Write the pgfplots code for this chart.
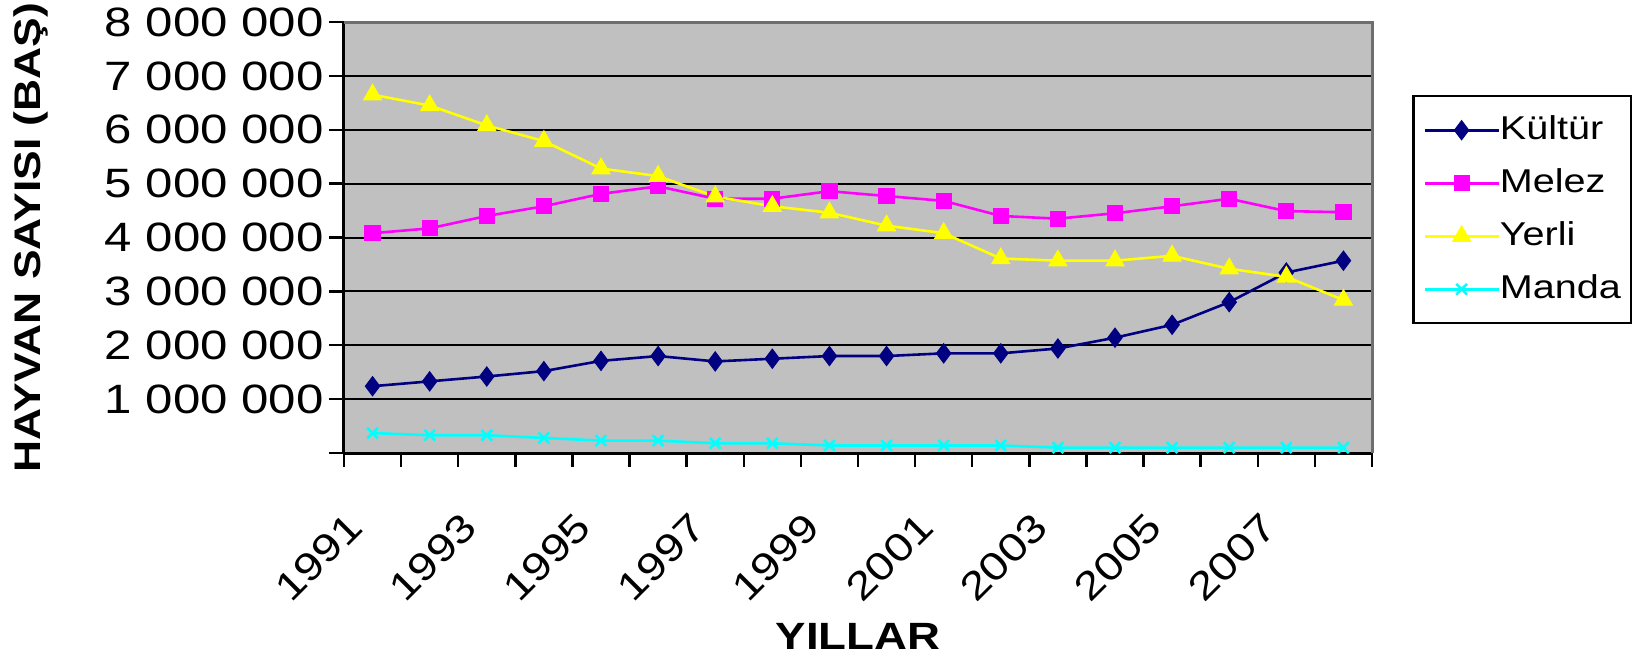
\documentclass[border=0pt]{standalone}
\usepackage{pgfplots}
\pgfplotsset{compat=1.18}
\usepackage{fontspec}
\setmainfont{Liberation Sans}[FakeStretch=1.2]
\definecolor{kultur}{RGB}{0,0,128}
\definecolor{melez}{RGB}{255,0,255}
\definecolor{yerli}{RGB}{255,255,0}
\definecolor{manda}{RGB}{0,255,255}
\definecolor{plotbg}{RGB}{192,192,192}
\definecolor{bordergray}{RGB}{110,110,110}
\begin{document}
\begin{tikzpicture}
\path[use as bounding box] (0,0) rectangle (819pt,327.5pt);
\begin{axis}[
  at={(172pt,101pt)}, anchor=south west,
  scale only axis, width=514pt, height=215.5pt,
  xmin=-0.5, xmax=17.5, ymin=0, ymax=8000000,
  scaled y ticks=false,
  axis lines*=left,
  axis line style={-, line width=1.5pt, black},
  axis background/.style={fill=plotbg},
  tick align=outside,
  xtick={0,2,4,6,8,10,12,14,16},
  xticklabels={1991,1993,1995,1997,1999,2001,2003,2005,2007},
  major x tick style={draw=none},
  minor xtick={-0.5,0.5,...,17.5},
  minor tick length=7pt,
  minor x tick style={black, line width=1.2pt},
  ytick={0,1000000,2000000,3000000,4000000,5000000,6000000,7000000,8000000},
  yticklabels={,1 000 000,2 000 000,3 000 000,4 000 000,5 000 000,6 000 000,7 000 000,8 000 000},
  major tick length=7.5pt,
  major y tick style={black, line width=1.2pt},
  ymajorgrids,
  grid style={black, line width=1pt},
  yticklabel style={font=\fontsize{20.5}{22}\selectfont, anchor=east, inner sep=0pt, xshift=-2.5pt},
  xticklabel style={font=\fontsize{19.5}{22}\selectfont, xshift=-8.5pt, yshift=-26pt, rotate=45, anchor=east, inner sep=0pt},
  every axis y label/.style={at={(axis description cs:-0.305,0.5)}, rotate=90, anchor=center, font=\bfseries\fontsize{18.5}{22}\selectfont},
  every axis x label/.style={at={(axis description cs:0.5,-0.4246)}, anchor=center, font=\bfseries\fontsize{19}{23}\selectfont},
  ylabel={HAYVAN SAYISI (BAŞ)},
  xlabel={YILLAR},
  legend style={at={(axis description cs:1.039,0.8306)}, anchor=north west,
    draw=black, line width=1.2pt, fill=white,
    font=\fontsize{16.5}{20}\selectfont,
    inner xsep=5pt, inner ysep=9pt, row sep=10.5pt,
    nodes={inner sep=0pt, text height=12.5pt, text depth=3.5pt},
    /tikz/every even column/.append style={column sep=5.5pt}},
  legend cell align=left,
  legend image code/.code={\draw[mark repeat=2,mark phase=2,#1] plot coordinates {(0pt,0pt) (18.5pt,0pt) (37pt,0pt)};},
  clip=false,
]
\addplot[kultur, line width=1.3pt, mark=diamond*, mark size=4.8pt, mark options={solid, fill=kultur, line width=0.5pt}] coordinates {
(0,1240000) (1,1330000) (2,1420000) (3,1520000) (4,1710000) (5,1800000) (6,1700000) (7,1750000) (8,1800000) (9,1800000) (10,1850000) (11,1850000) (12,1940000) (13,2140000) (14,2380000) (15,2800000) (16,3350000) (17,3570000)};
\addlegendentry{Kültür}
\addplot[melez, line width=1.3pt, mark=square*, mark size=3.8pt, mark options={solid, fill=melez, line width=0.5pt}] coordinates {
(0,4080000) (1,4170000) (2,4400000) (3,4580000) (4,4810000) (5,4950000) (6,4720000) (7,4720000) (8,4860000) (9,4770000) (10,4680000) (11,4400000) (12,4350000) (13,4450000) (14,4580000) (15,4720000) (16,4490000) (17,4470000)};
\addlegendentry{Melez}
\addplot[yerli, line width=1.3pt, mark=triangle*, mark size=5.2pt, mark options={solid, fill=yerli, line width=0.5pt}] coordinates {
(0,6650000) (1,6450000) (2,6080000) (3,5790000) (4,5280000) (5,5140000) (6,4760000) (7,4580000) (8,4460000) (9,4220000) (10,4080000) (11,3610000) (12,3570000) (13,3570000) (14,3660000) (15,3420000) (16,3270000) (17,2840000)};
\addlegendentry{Yerli}
\addplot[manda, line width=1.3pt, mark=x, mark size=3.8pt, mark options={solid, line width=1.3pt}] coordinates {
(0,370000) (1,330000) (2,330000) (3,280000) (4,230000) (5,230000) (6,180000) (7,180000) (8,140000) (9,140000) (10,140000) (11,140000) (12,100000) (13,100000) (14,100000) (15,100000) (16,100000) (17,100000)};
\addlegendentry{Manda}
\draw[bordergray, line width=1.5pt] (rel axis cs:0,1) -- (rel axis cs:1,1) -- (rel axis cs:1,0);
\end{axis}
\end{tikzpicture}
\end{document}
